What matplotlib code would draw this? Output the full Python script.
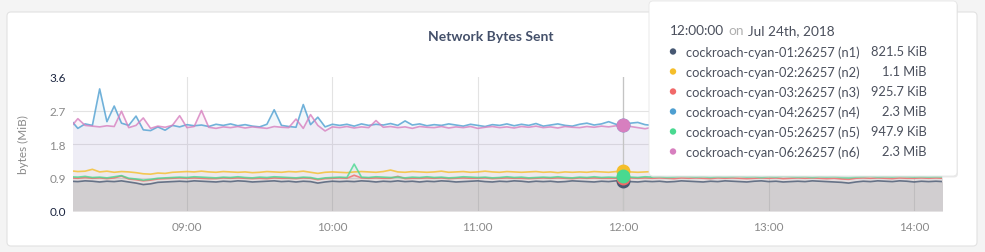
import numpy as np
import pandas as pd
import matplotlib
matplotlib.use("Agg")
import matplotlib.pyplot as plt
import matplotlib.dates as mdates
from matplotlib.patches import FancyBboxPatch, Circle

plt.rcParams['font.family'] = ['Lato', 'DejaVu Sans']

# samples every 3 minutes, 08:12 -> 14:12
times = pd.date_range("2018-07-24 08:12", periods=121, freq="3min")

n1 = [0.80, 0.79, 0.81, 0.80, 0.78, 0.80, 0.79, 0.81, 0.78, 0.75,
      0.71, 0.73, 0.77, 0.78, 0.79, 0.80, 0.79, 0.81, 0.80, 0.79,
      0.78, 0.80, 0.79, 0.81, 0.80, 0.78, 0.79, 0.80, 0.81, 0.79,
      0.80, 0.78, 0.80, 0.79, 0.75, 0.78, 0.80, 0.79, 0.80, 0.79,
      0.81, 0.80, 0.78, 0.80, 0.79, 0.81, 0.79, 0.80, 0.78, 0.80,
      0.79, 0.81, 0.80, 0.78, 0.79, 0.80, 0.81, 0.79, 0.78, 0.80,
      0.79, 0.81, 0.80, 0.78, 0.80, 0.79, 0.80, 0.78, 0.79, 0.81,
      0.80, 0.79, 0.78, 0.80, 0.79, 0.81, 0.80, 0.79, 0.78, 0.80,
      0.79, 0.80, 0.78, 0.79, 0.81, 0.80, 0.79, 0.78, 0.80, 0.79,
      0.81, 0.80, 0.79, 0.78, 0.80, 0.81, 0.79, 0.80, 0.78, 0.79,
      0.80, 0.79, 0.81, 0.80, 0.79, 0.78, 0.77, 0.75, 0.78, 0.80,
      0.79, 0.81, 0.80, 0.79, 0.81, 0.80, 0.78, 0.80, 0.79, 0.80,
      0.79]
n2 = [1.08, 1.06, 1.07, 1.12, 1.05, 1.07, 1.04, 1.06, 1.05, 1.03,
      1.00, 0.99, 1.02, 1.01, 1.04, 1.05, 1.06, 1.05, 1.07, 1.05,
      1.04, 1.06, 1.05, 1.04, 1.05, 1.03, 1.04, 1.06, 1.05, 1.04,
      1.06, 1.05, 1.07, 1.04, 1.01, 1.04, 1.05, 1.04, 1.03, 1.05,
      1.06, 1.05, 1.04, 1.06, 1.10, 1.05, 1.04, 1.06, 1.05, 1.04,
      1.05, 1.07, 1.04, 1.05, 1.06, 1.04, 1.05, 1.07, 1.05, 1.04,
      1.06, 1.05, 1.04, 1.05, 1.06, 1.04, 1.05, 1.03, 1.05, 1.04,
      1.05, 1.04, 1.06, 1.05, 1.04, 1.06, 1.07, 1.05, 1.04, 1.05,
      1.06, 1.05, 1.04, 1.06, 1.05, 1.04, 1.05, 1.06, 1.04, 1.05,
      1.06, 1.05, 1.04, 1.05, 1.06, 1.05, 1.04, 1.06, 1.05, 1.04,
      1.05, 1.06, 1.04, 1.05, 1.06, 1.05, 1.04, 1.05, 1.06, 1.05,
      1.04, 1.06, 1.05, 1.04, 1.05, 1.06, 1.05, 1.04, 1.05, 1.06,
      1.05]
n3 = [0.89, 0.88, 0.90, 0.88, 0.89, 0.87, 0.89, 0.94, 0.86, 0.84,
      0.81, 0.83, 0.86, 0.87, 0.88, 0.89, 0.88, 0.89, 0.88, 0.87,
      0.87, 0.89, 0.88, 0.89, 0.88, 0.87, 0.88, 0.87, 0.89, 0.88,
      0.88, 0.87, 0.89, 0.88, 0.84, 0.87, 0.88, 0.89, 0.88, 0.96,
      0.89, 0.88, 0.89, 0.88, 0.88, 0.93, 0.87, 0.88, 0.88, 0.89,
      0.88, 0.89, 0.87, 0.88, 0.89, 0.88, 0.88, 0.89, 0.87, 0.88,
      0.89, 0.88, 0.88, 0.87, 0.88, 0.89, 0.88, 0.89, 0.88, 0.87,
      0.89, 0.88, 0.89, 0.88, 0.88, 0.88, 0.90, 0.89, 0.88, 0.89,
      0.88, 0.89, 0.88, 0.87, 0.89, 0.88, 0.89, 0.88, 0.87, 0.89,
      0.88, 0.89, 0.88, 0.87, 0.88, 0.89, 0.88, 0.89, 0.87, 0.88,
      0.89, 0.88, 0.89, 0.88, 0.87, 0.88, 0.86, 0.85, 0.88, 0.89,
      0.88, 0.89, 0.88, 0.87, 0.89, 0.88, 0.88, 0.89, 0.88, 0.89,
      0.88]
n4 = [2.45, 2.22, 2.34, 2.30, 3.28, 2.40, 2.82, 2.36, 2.30, 2.55,
      2.18, 2.16, 2.26, 2.17, 2.30, 2.26, 2.32, 2.29, 2.31, 2.27,
      2.33, 2.30, 2.34, 2.29, 2.32, 2.28, 2.26, 2.33, 2.72, 2.30,
      2.27, 2.25, 2.86, 2.32, 2.52, 2.26, 2.33, 2.30, 2.33, 2.28,
      2.34, 2.30, 2.33, 2.31, 2.35, 2.30, 2.42, 2.31, 2.34, 2.29,
      2.32, 2.30, 2.34, 2.31, 2.28, 2.33, 2.30, 2.27, 2.32, 2.30,
      2.34, 2.29, 2.33, 2.30, 2.35, 2.28, 2.31, 2.34, 2.30, 2.28,
      2.33, 2.36, 2.31, 2.34, 2.40, 2.33, 2.30, 2.36, 2.38, 2.32,
      2.30, 2.33, 2.29, 2.32, 2.30, 2.34, 2.31, 2.29, 2.33, 2.30,
      2.32, 2.28, 2.31, 2.34, 2.30, 2.29, 2.33, 2.31, 2.30, 2.32,
      2.29, 2.33, 2.30, 2.31, 2.34, 2.30, 2.28, 2.32, 2.31, 2.30,
      2.33, 2.29, 2.31, 2.30, 2.34, 2.30, 2.32, 2.29, 2.31, 2.30,
      2.32]
n5 = [0.92, 0.91, 0.93, 0.90, 0.91, 0.89, 0.92, 0.95, 0.88, 0.86,
      0.83, 0.85, 0.88, 0.89, 0.90, 0.91, 0.90, 0.92, 0.91, 0.90,
      0.89, 0.91, 0.90, 0.92, 0.90, 0.89, 0.91, 0.90, 0.92, 0.91,
      0.90, 0.89, 0.91, 0.90, 0.86, 0.89, 0.90, 0.91, 0.90, 1.26,
      0.91, 0.90, 0.92, 0.91, 0.90, 0.91, 0.89, 0.91, 0.90, 0.92,
      0.90, 0.91, 0.89, 0.90, 0.92, 0.91, 0.90, 0.91, 0.89, 0.90,
      0.92, 0.90, 0.91, 0.89, 0.90, 0.91, 0.90, 0.92, 0.90, 0.89,
      0.91, 0.90, 0.92, 0.90, 0.91, 0.90, 0.93, 0.91, 0.90, 0.92,
      0.91, 0.92, 0.90, 0.91, 0.93, 0.92, 0.91, 0.92, 0.90, 0.92,
      0.91, 0.92, 0.93, 0.91, 0.92, 0.90, 0.92, 0.91, 0.93, 0.92,
      0.91, 0.92, 0.90, 0.92, 0.91, 0.92, 0.90, 0.89, 0.91, 0.92,
      0.93, 0.91, 0.92, 0.91, 0.93, 0.92, 0.91, 0.92, 0.91, 0.92,
      0.91]
n6 = [2.25, 2.48, 2.30, 2.28, 2.26, 2.29, 2.27, 2.68, 2.24, 2.30,
      2.50, 2.22, 2.28, 2.25, 2.30, 2.56, 2.24, 2.27, 2.70, 2.25,
      2.22, 2.26, 2.24, 2.27, 2.23, 2.26, 2.24, 2.22, 2.27, 2.25,
      2.24, 2.47, 2.22, 2.59, 2.30, 2.15, 2.26, 2.24, 2.27, 2.23,
      2.26, 2.24, 2.43, 2.25, 2.27, 2.24, 2.26, 2.22, 2.27, 2.25,
      2.24, 2.27, 2.23, 2.26, 2.24, 2.27, 2.22, 2.25, 2.27, 2.24,
      2.26, 2.23, 2.27, 2.25, 2.28, 2.24, 2.26, 2.23, 2.27, 2.25,
      2.24, 2.27, 2.25, 2.28, 2.26, 2.29, 2.30, 2.27, 2.24, 2.21,
      2.25, 2.27, 2.24, 2.26, 2.23, 2.27, 2.25, 2.24, 2.26, 2.28,
      2.24, 2.26, 2.23, 2.27, 2.25, 2.24, 2.26, 2.23, 2.27, 2.25,
      2.24, 2.27, 2.25, 2.23, 2.26, 2.24, 2.27, 2.25, 2.24, 2.26,
      2.23, 2.27, 2.25, 2.24, 2.26, 2.28, 2.24, 2.26, 2.25, 2.27,
      2.25]

series = [n1, n2, n3, n4, n5, n6]
colors = ["#475872", "#F5BE2A", "#F16969", "#4E9FD1", "#49D990", "#D77FBF"]
fill_alpha = [0.14, 0.05, 0.08, 0.08, 0.05, 0.08]
names = ["cockroach-cyan-0%d:26257 (n%d)" % (k, k) for k in range(1, 7)]
hover_values = ["821.5 KiB", "1.1 MiB", "925.7 KiB", "2.3 MiB", "947.9 KiB", "2.3 MiB"]
hover_time = pd.Timestamp("2018-07-24 12:00")
hover_idx = list(times).index(hover_time)

W, H = 985, 253
fig = plt.figure(figsize=(W / 100, H / 100), dpi=100, facecolor="#f4f4f4")

def fx(x):
    return x / W

def fy(y):
    return 1 - y / H

# card background
fig.patches.append(FancyBboxPatch((0.07, 0.06), 9.70, 2.34, boxstyle="round,pad=0,rounding_size=0.04",
                                  transform=fig.dpi_scale_trans, facecolor="white",
                                  edgecolor="#e2e2e2", linewidth=0.8, zorder=-1))

ax = fig.add_axes([fx(73), fy(212), fx(869), (212 - 78) / H])
ax.patch.set_alpha(0)

for vals, c, a in zip(series, colors, fill_alpha):
    ax.fill_between(times, vals, 0, color=c, alpha=a, linewidth=0, zorder=1)
for vals, c in zip(series, colors):
    ax.plot(times, vals, color=c, linewidth=1.2, alpha=0.8, zorder=3)

ax.axvline(hover_time, color="#c4c4c4", linewidth=0.9, zorder=2)
for vals, c in zip(series, colors):
    ax.plot([hover_time], [vals[hover_idx]], "o", color=c, markersize=9, zorder=4)

ax.set_xlim(pd.Timestamp("2018-07-24 08:13"), pd.Timestamp("2018-07-24 14:11:30"))
ax.set_ylim(0, 3.6)
ax.set_yticks([0, 0.9, 1.8, 2.7, 3.6])
ax.set_yticklabels(["0.0", "0.9", "1.8", "2.7", "3.6"])
ax.xaxis.set_major_locator(mdates.HourLocator())
ax.xaxis.set_major_formatter(mdates.DateFormatter("%H:%M"))
ax.tick_params(length=0, labelsize=8.5, labelcolor="#8a8a8a")
ax.tick_params(axis="x", pad=7)
ax.tick_params(axis="y", pad=5)
for lab in ax.get_yticklabels():
    if lab.get_text() in ("0.0", "3.6"):
        lab.set_color("#1b2540")
ax.grid(True, color="#e3e3e3", linewidth=0.8, zorder=0)
ax.set_axisbelow(True)
ygl = ax.get_ygridlines()
ygl[0].set_visible(False)
ygl[-1].set_visible(False)
for s in ax.spines.values():
    s.set_visible(False)
ax.set_ylabel("bytes (MiB)", color="#8a8a8a", fontsize=8.5)
ax.yaxis.set_label_coords(-(73 - 29) / 869, 0.5)

fig.text(fx(491), fy(37), "Network Bytes Sent", ha="center", va="center",
         fontsize=10, fontweight="bold", color="#44506a")

# tooltip
fig.patches.append(FancyBboxPatch((6.50, 0.745), 3.08, 1.75, boxstyle="round,pad=0,rounding_size=0.04",
                                  transform=fig.dpi_scale_trans, facecolor="#dcdcdc",
                                  edgecolor="none", alpha=0.6, zorder=5))
fig.patches.append(FancyBboxPatch((6.49, 0.76), 3.08, 1.75, boxstyle="round,pad=0,rounding_size=0.04",
                                  transform=fig.dpi_scale_trans, facecolor="white",
                                  edgecolor="#e6e6e6", linewidth=0.6, zorder=6))

txt_color = "#4a4f5c"
fs = 9.3
r = fig.canvas.get_renderer()
x = fx(670)
for piece, c in [("12:00:00", txt_color), ("on", "#b0b0b0"), ("Jul 24th, 2018", txt_color)]:
    t = fig.text(x, fy(31), piece, ha="left", va="center", fontsize=9.8, color=c, zorder=7)
    bb = t.get_window_extent(r)
    x = (bb.x1 + 4) / W

for k, (name, val, c) in enumerate(zip(names, hover_values, colors)):
    y = 52.5 + 20 * k
    fig.patches.append(Circle((6.73, (H - y) / 100), 0.032, transform=fig.dpi_scale_trans,
                              facecolor=c, edgecolor="none", zorder=7))
    fig.text(fx(686), fy(y), name, ha="left", va="center", fontsize=fs, color=txt_color, zorder=7)
    fig.text(fx(927), fy(y), val, ha="right", va="center", fontsize=fs, color=txt_color, zorder=7)

fig.savefig("out.png", dpi=100, facecolor=fig.get_facecolor())
